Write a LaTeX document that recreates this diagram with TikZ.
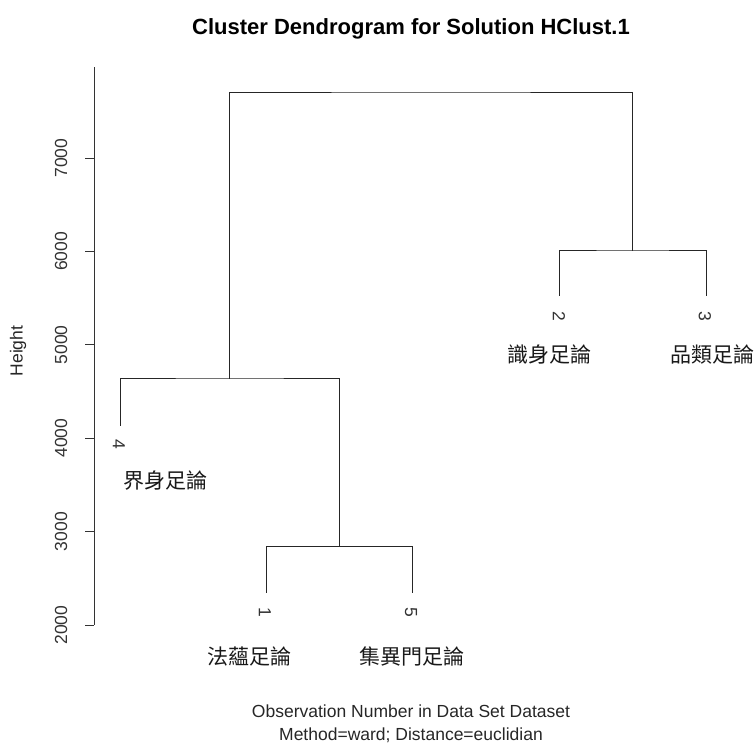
\documentclass[tikz,border=0pt]{standalone}
\usepackage{fontspec}
\setmainfont{Liberation Sans}
\newfontfamily\cjk{Noto Sans CJK TC}
\tikzset{
  branch/.style={
    line width=1pt,
    draw=black!85,
    line cap=rect
  },
  axis-line/.style={line width=0.9pt, draw=black!80},
  plot-title/.style={anchor=base, font=\fontsize{22}{26}\selectfont\bfseries, text=black},
  axis-text/.style={anchor=base, font=\fontsize{17.5}{21}\selectfont, text=black!85},
  tick-label/.style={rotate=90, font=\fontsize{17.5}{21}\selectfont, text=black!80, inner sep=0pt},
  leaf-num/.style={rotate=-90, font=\fontsize{17.5}{21}\selectfont, text=black!80, inner sep=0pt},
  leaf-name/.style={font=\cjk\fontsize{21}{25}\selectfont, text=black!90, inner sep=0pt}
}
\newcommand{\ticky}[1]{625-(#1-2000)*0.0934}

\begin{document}
\begin{tikzpicture}[x=1pt,y=-1pt]
  \useasboundingbox (0,0) rectangle (754,745);
  \node[plot-title] (title) at (411,34) {Cluster Dendrogram for Solution HClust.1};
  % y axis
  \coordinate (ax-top) at (94,67);
  \coordinate (ax-bot) at (94,625);
  \draw[axis-line] (ax-top) -- (ax-bot);
  \foreach \v in {2000,3000,...,7000}{
    \pgfmathsetmacro{\ty}{\ticky{\v}}
    \draw[axis-line] (85,\ty) -- (94,\ty);
    \node[tick-label] (tick-\v) at (61,\ty) {\v};
  }
  \node[rotate=90, font=\fontsize{17.5}{21}\selectfont, text=black!85] (ylab) at (18,351) {Height};
  % leaf tips
  \coordinate (tip4) at (120,425);
  \coordinate (tip1) at (266,592);
  \coordinate (tip5) at (412,592);
  \coordinate (tip2) at (559,295);
  \coordinate (tip3) at (706,295);
  % merge points
  \coordinate (m15) at (339,546);
  \coordinate (m145) at (229.5,378);
  \coordinate (m23) at (632.5,250);
  \coordinate (root) at (431,92);
  % branches
  \draw[branch] (tip1) |- (m15) -| (tip5);
  \draw[branch] (tip4) |- (m145) -| (m15);
  \draw[branch] (tip2) |- (m23) -| (tip3);
  \draw[branch] (m145) |- (root) -| (m23);
  % leaf numbers and names
  \foreach \i/\nx/\ny/\wx/\wy/\word in {
      4/119/444/165/481/界身足論,
      1/265/612/249/657/法蘊足論,
      5/411/612/412/657/集異門足論,
      2/559/316/549/355/識身足論,
      3/705/316/712/355/品類足論}{
    \node[leaf-num] (num\i) at (\nx,\ny) {\i};
    \node[leaf-name] (name\i) at (\wx,\wy) {\word};
  }
  % x axis caption
  \node[axis-text] (xlab) at (411,717) {Observation Number in Data Set Dataset};
  \node[axis-text] (xsub) at (411,740) {Method=ward; Distance=euclidian};
\end{tikzpicture}
\end{document}
